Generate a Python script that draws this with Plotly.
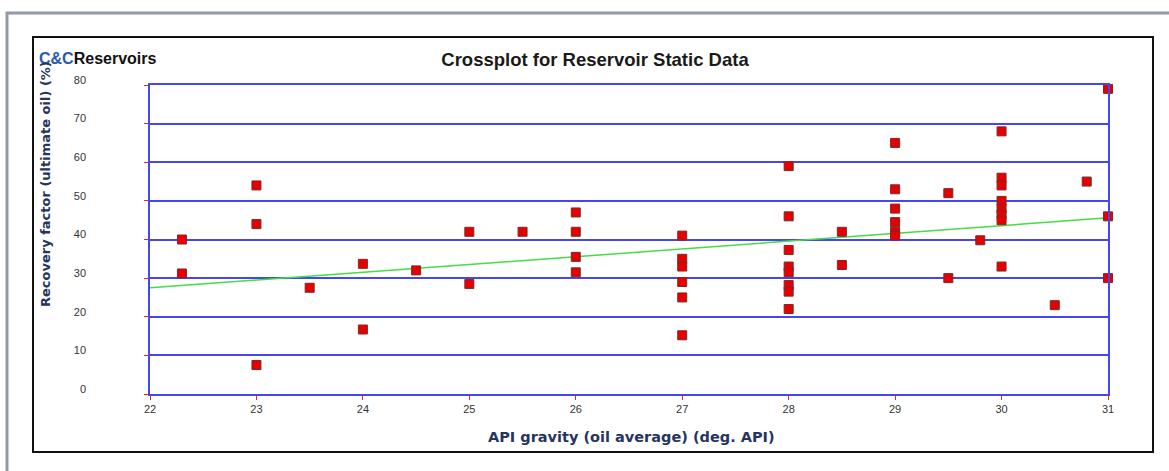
import plotly.graph_objects as go

# ---- data ----
api_gravity = [22.3, 22.3,
               23, 23, 23,
               23.5,
               24, 24,
               24.5,
               25, 25,
               25.5,
               26, 26, 26, 26,
               27, 27, 27, 27, 27, 27,
               28, 28, 28, 28, 28, 28, 28, 28,
               28.5, 28.5,
               29, 29, 29, 29, 29, 29,
               29.5, 29.5,
               29.8,
               30, 30, 30, 30, 30, 30, 30, 30,
               30.5,
               30.8,
               31, 31, 31]
recovery = [40, 31.2,
            54, 44, 7.5,
            27.5,
            33.7, 16.7,
            32,
            42, 28.5,
            42,
            47, 42, 35.5, 31.5,
            41, 35, 33, 29, 25, 15.2,
            59, 46, 37.3, 33, 31.5, 28.2, 26.5, 22,
            42, 33.4,
            65, 53, 48, 44.5, 42, 41,
            52, 30,
            39.8,
            68, 56, 54, 50, 48, 46.5, 45, 33,
            23,
            55,
            79, 46, 30]
trend_x = [22, 31]
trend_y = [27.5, 45.6]

x_ticks = [22, 23, 24, 25, 26, 27, 28, 29, 30, 31]
y_ticks = [0, 10, 20, 30, 40, 50, 60, 70, 80]

# ---- layout geometry (pixels) ----
W, H = 1169, 471
PL, PR, PT, PB = 150, 1108, 85, 394


def px(x):
    return (x - PL) / (PR - PL)


def py(y):
    return (PB - y) / (PB - PT)


BLUE = "#4646ee"
NAVY = "#25355f"
BOLDWIDE = "DejaVu Sans, Verdana, sans-serif"

fig = go.Figure()
fig.add_trace(go.Scatter(
    x=trend_x, y=trend_y, mode="lines",
    line=dict(color="#44dd44", width=1.5),
    hoverinfo="skip", showlegend=False))
fig.add_trace(go.Scatter(
    x=api_gravity, y=recovery, mode="markers",
    marker=dict(symbol="square", size=9, color="#e60000",
                line=dict(color="#7a2a2a", width=1)),
    cliponaxis=False, showlegend=False))

fig.update_layout(
    width=W, height=H,
    margin=dict(l=PL, r=W - PR, t=PT, b=H - PB, pad=0),
    paper_bgcolor="white", plot_bgcolor="white",
    font=dict(family="Liberation Sans, Arial, sans-serif", color="#333333"),
    title=dict(text="<b>Crossplot for Reservoir Static Data</b>",
               x=595 / W, xanchor="center", xref="container",
               y=1 - 60 / H, yanchor="middle", yref="container",
               font=dict(size=18.5, color="#1a1a1a",
                         family="Liberation Sans, Arial, sans-serif")),
    xaxis=dict(range=[22, 31], tickvals=x_ticks,
               ticktext=[str(v) for v in x_ticks],
               showgrid=False, zeroline=False,
               showline=True, linecolor=BLUE, linewidth=1.5, mirror=True,
               ticks="outside", tickcolor="#ee2222", ticklen=4, tickwidth=1,
               tickfont=dict(size=11, color="#333333")),
    yaxis=dict(range=[0, 80], tickvals=y_ticks,
               ticktext=[str(v) for v in y_ticks],
               showgrid=True, gridcolor=BLUE, gridwidth=1.5, zeroline=False,
               showline=True, linecolor=BLUE, linewidth=1.5, mirror=True,
               ticks="outside", tickcolor="#ee2222", ticklen=4, tickwidth=1,
               ticklabelstandoff=56, ticklabelshift=-5,
               tickfont=dict(size=11, color="#333333")),
    shapes=[
        dict(type="rect", xref="paper", yref="paper",
             x0=px(7), x1=px(1180), y0=py(490), y1=py(13),
             line=dict(color="#8e9aa6", width=3), layer="below"),
        dict(type="rect", xref="paper", yref="paper",
             x0=px(33), x1=px(1153), y0=py(452), y1=py(37),
             line=dict(color="#111111", width=2), layer="below"),
    ],
    annotations=[
        dict(text="<b><span style='color:#2a5caa'>C&amp;C</span>Reservoirs</b>",
             xref="paper", yref="paper", x=px(37), y=py(58),
             xanchor="left", yanchor="middle", showarrow=False,
             font=dict(size=16, color="#111111",
                       family="Liberation Sans Narrow, Liberation Sans, sans-serif")),
        dict(text="<b>Recovery factor (ultimate oil) (%)</b>",
             xref="paper", yref="paper", x=px(45), y=py(184),
             xanchor="center", yanchor="middle", textangle=-90, showarrow=False,
             font=dict(size=13, color=NAVY, family=BOLDWIDE)),
        dict(text="<b>API gravity (oil average) (deg. API)</b>",
             xref="paper", yref="paper", x=px(631), y=py(437),
             xanchor="center", yanchor="middle", showarrow=False,
             font=dict(size=14.5, color=NAVY, family=BOLDWIDE)),
    ],
)

fig.write_html("out.html", config={"displayModeBar": False},
               post_script="document.body.style.margin='0';")
